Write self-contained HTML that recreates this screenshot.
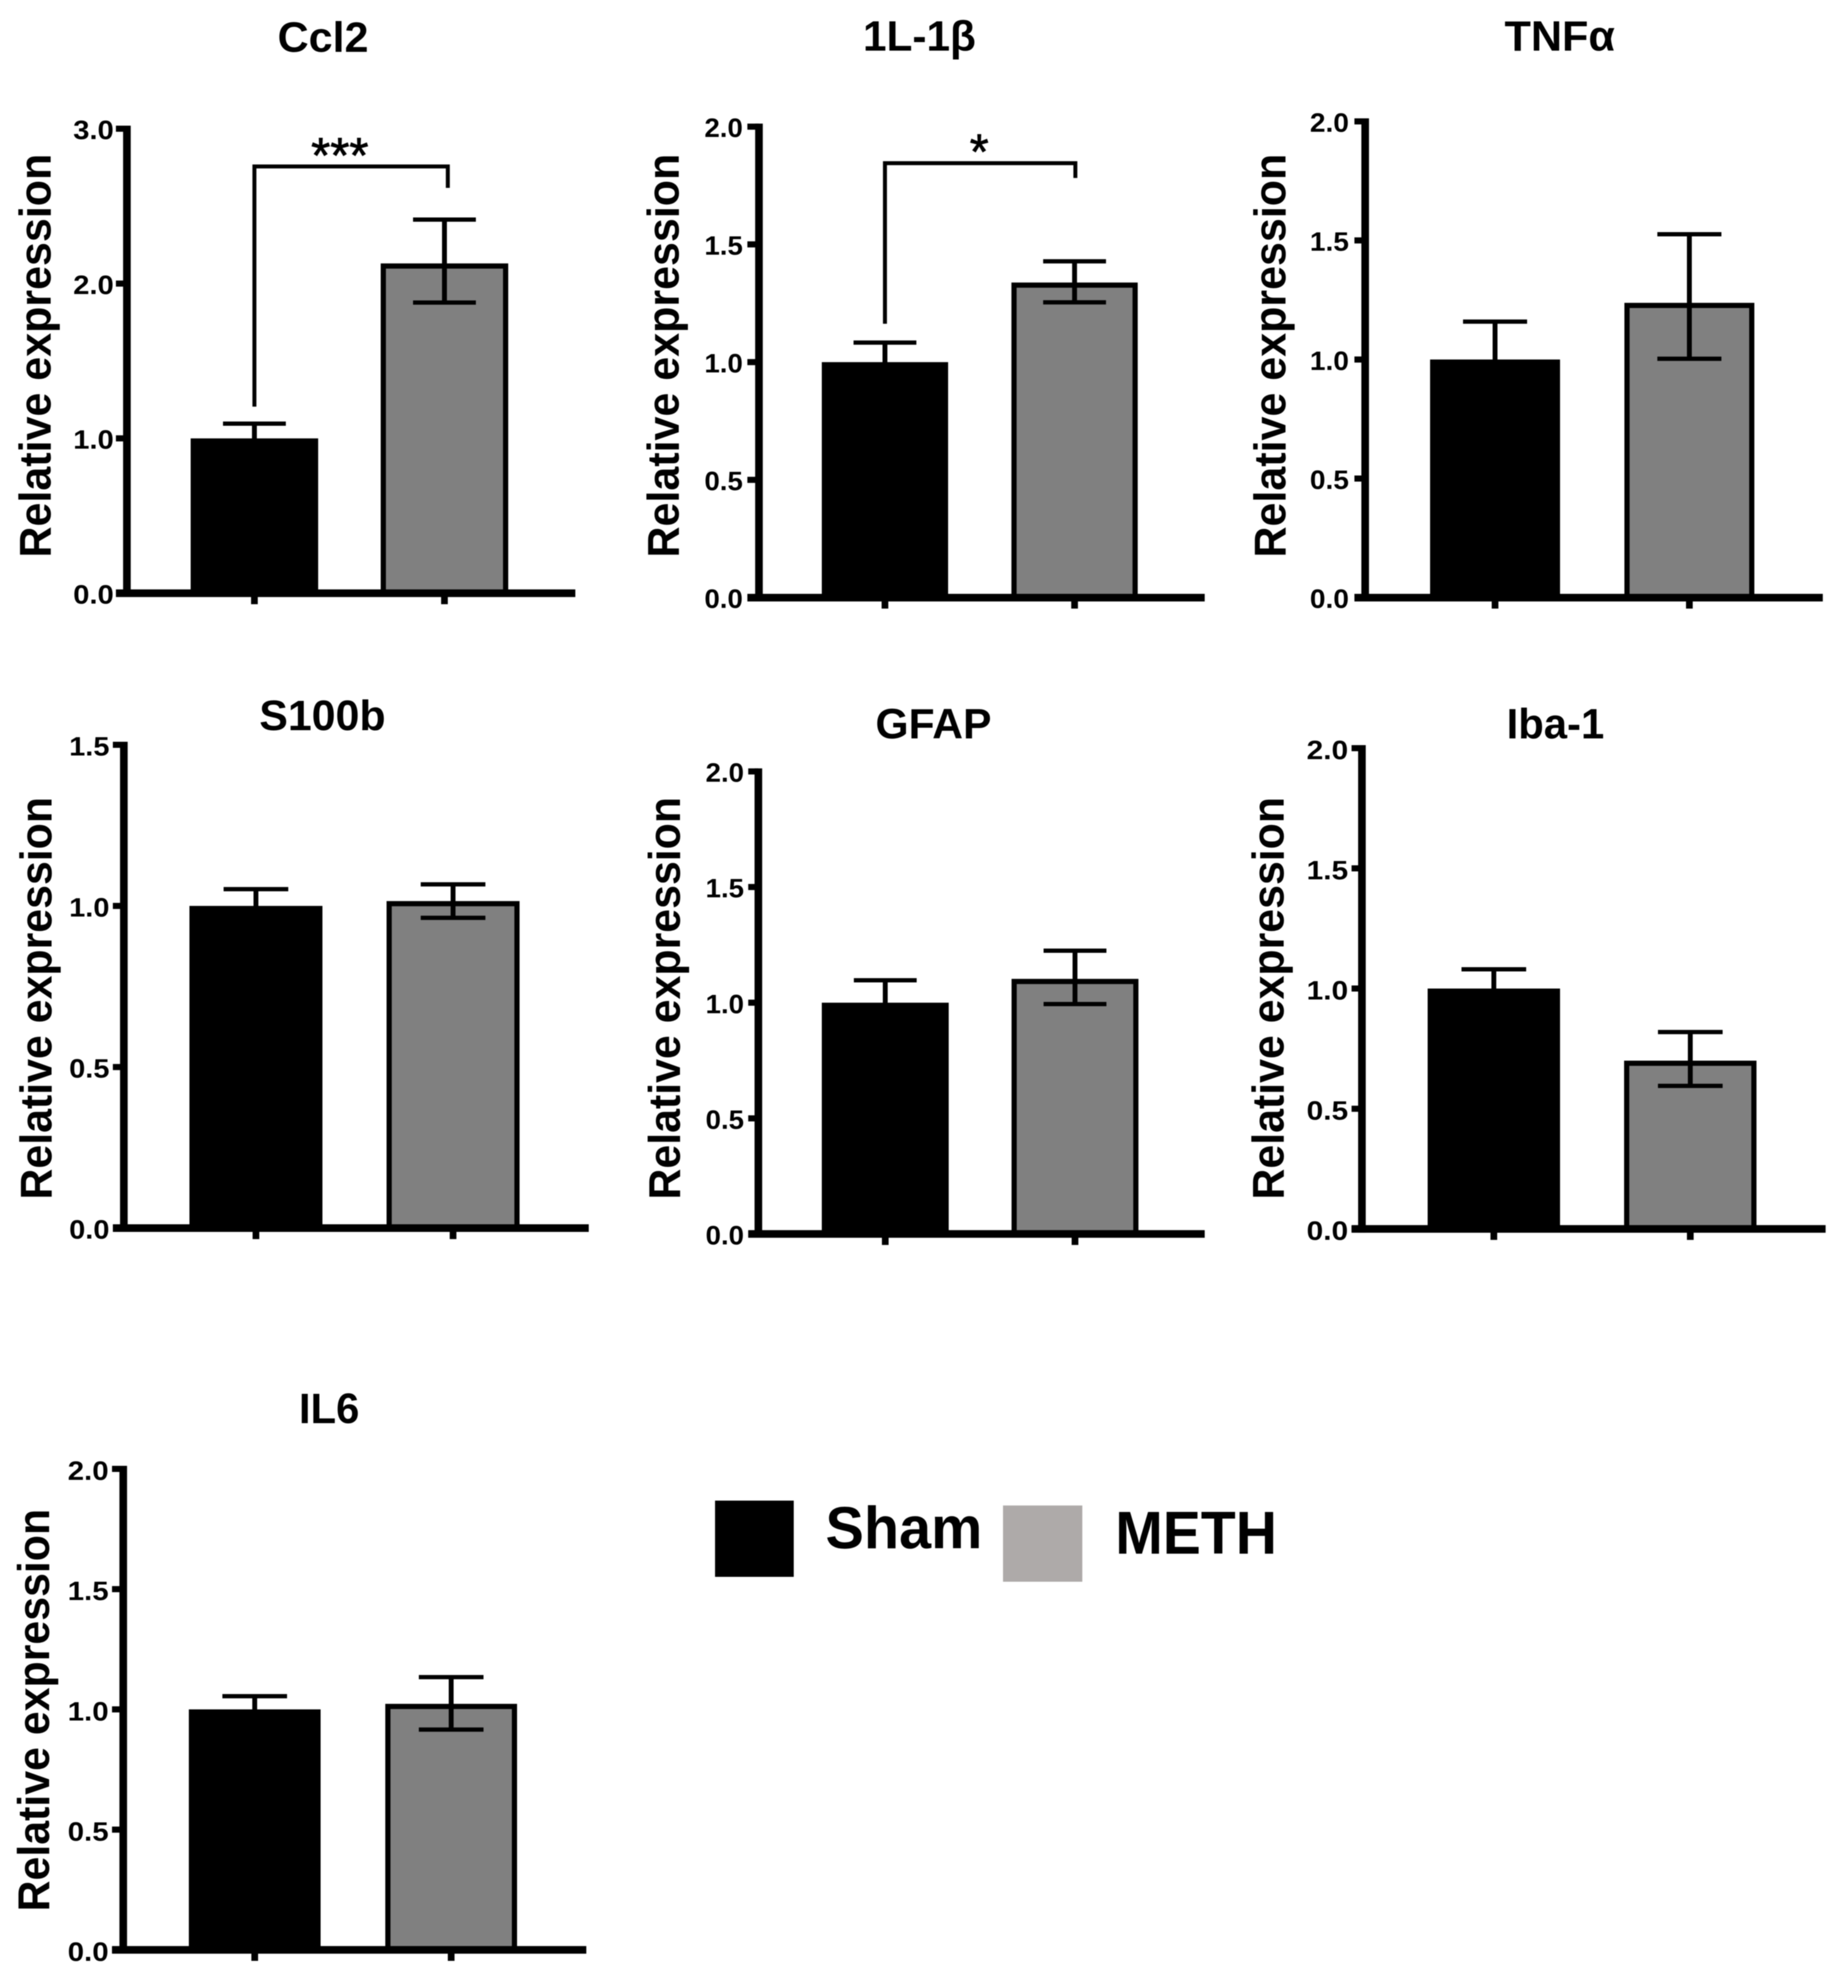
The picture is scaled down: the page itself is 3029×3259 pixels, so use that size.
<!DOCTYPE html>
<html>
<head>
<meta charset="utf-8">
<title>Relative expression bar charts</title>
<style>
html,body{margin:0;padding:0;background:#fff;}
#figure{display:block;width:3029px;height:3259px;background:#fff;filter:blur(0.7px);}
text{font-family:"Liberation Sans",sans-serif;font-weight:bold;fill:#000;}
</style>
</head>
<body>
<svg id="figure" xmlns="http://www.w3.org/2000/svg" width="3029" height="3259" viewBox="0 0 3029 3259">
  <g id="panels"></g>
  <g>
    <rect x="1172" y="2460" width="129" height="125" fill="#000"/>
    <text x="1353" y="2538" font-size="97" textLength="257" lengthAdjust="spacingAndGlyphs">Sham</text>
    <rect x="1644" y="2468" width="130" height="125" fill="#aeaaa9"/>
    <text x="1828" y="2547" font-size="99" textLength="265" lengthAdjust="spacingAndGlyphs">METH</text>
  </g>
</svg>
<script>
// ---- chart data ----
const categories = ['Sham', 'METH'];

const ccl2Ticks = ['0.0', '1.0', '2.0', '3.0'];
const ccl2Means = [1.0, 2.13];
const ccl2Upper = [1.095, 2.413];
const ccl2Lower = [0.905, 1.877];
const ccl2Bracket = [2.756, 1.205, 2.618];

const il1bTicks = ['0.0', '0.5', '1.0', '1.5', '2.0'];
const il1bMeans = [1.0, 1.338];
const il1bUpper = [1.083, 1.428];
const il1bLower = [0.917, 1.254];
const il1bBracket = [1.845, 1.163, 1.782];

const tnfaTicks = ['0.0', '0.5', '1.0', '1.5', '2.0'];
const tnfaMeans = [1.0, 1.238];
const tnfaUpper = [1.159, 1.526];
const tnfaLower = [0.841, 1.003];

const s100bTicks = ['0.0', '0.5', '1.0', '1.5'];
const s100bMeans = [1.0, 1.015];
const s100bUpper = [1.052, 1.067];
const s100bLower = [0.948, 0.963];

const gfapTicks = ['0.0', '0.5', '1.0', '1.5', '2.0'];
const gfapMeans = [1.0, 1.103];
const gfapUpper = [1.097, 1.225];
const gfapLower = [0.903, 0.994];

const iba1Ticks = ['0.0', '0.5', '1.0', '1.5', '2.0'];
const iba1Means = [1.0, 0.70];
const iba1Upper = [1.08, 0.819];
const iba1Lower = [0.92, 0.595];

const il6Ticks = ['0.0', '0.5', '1.0', '1.5', '2.0'];
const il6Means = [1.0, 1.023];
const il6Upper = [1.055, 1.134];
const il6Lower = [0.945, 0.916];

// ---- panel frames (layout only) ----
const panels = [
  {key:'ccl2', title:'Ccl2', titleX:529.5, titleY:85, titleW:149, ticks:ccl2Ticks, means:ccl2Means, upper:ccl2Upper, lower:ccl2Lower,
   bracket:ccl2Bracket, stars:'***', starX:557, starY:283, bracketDx:5.5, starW:94,
   axisX:208, leftX:190, rightX:943, baseY:972.5, topY:211, c0:417, c1:728.5, barW:209, capW:103, labelRight:186.5, labelW:66.5, labelDy:17, yTitleX:83, yTitleMid:583, yTitleLen:662},
  {key:'il1b', title:'1L-1β', titleX:1507, titleY:83, titleW:185, ticks:il1bTicks, means:il1bMeans, upper:il1bUpper, lower:il1bLower,
   bracket:il1bBracket, stars:'*', starX:1605, starY:277, bracketDx:1.3, starW:31,
   axisX:1244, leftX:1225, rightX:1974.6, baseY:979.7, topY:207.6, c0:1450.5, c1:1761.3, barW:207, capW:103, labelRight:1217.6, labelW:63, labelDy:17, yTitleX:1112.5, yTitleMid:583, yTitleLen:662},
  {key:'tnfa', title:'TNFα', titleX:2556.5, titleY:83, titleW:181, ticks:tnfaTicks, means:tnfaMeans, upper:tnfaUpper, lower:tnfaLower,
   axisX:2237.6, leftX:2220, rightX:2987.7, baseY:979.7, topY:199, c0:2450.5, c1:2769, barW:213, capW:105, labelRight:2211, labelW:64, labelDy:17, yTitleX:2107, yTitleMid:583, yTitleLen:662},
  {key:'s100b', title:'S100b', titleX:528.5, titleY:1197, titleW:207, ticks:s100bTicks, means:s100bMeans, upper:s100bUpper, lower:s100bLower,
   axisX:203, leftX:185, rightX:965, baseY:2013.3, topY:1221, c0:419.5, c1:742.6, barW:218, capW:106, labelRight:179.4, labelW:66, labelDy:17.4, yTitleX:84.5, yTitleMid:1636.5, yTitleLen:660},
  {key:'gfap', title:'GFAP', titleX:1530, titleY:1210.5, titleW:190, ticks:gfapTicks, means:gfapMeans, upper:gfapUpper, lower:gfapLower,
   axisX:1243, leftX:1226.4, rightX:1974.6, baseY:2022.9, topY:1264.6, c0:1451, c1:1762, barW:208, capW:103, labelRight:1219.5, labelW:63, labelDy:17, yTitleX:1114.5, yTitleMid:1636.5, yTitleLen:660},
  {key:'iba1', title:'Iba-1', titleX:2549.5, titleY:1210.5, titleW:160, ticks:iba1Ticks, means:iba1Means, upper:iba1Upper, lower:iba1Lower,
   axisX:2232.3, leftX:2215.3, rightX:2992.3, baseY:2014.6, topY:1226.5, c0:2448.5, c1:2770.5, barW:217, capW:106, labelRight:2209.7, labelW:68, labelDy:17.8, yTitleX:2104, yTitleMid:1636.5, yTitleLen:660},
  {key:'il6', title:'IL6', titleX:539.5, titleY:2333, titleW:99, ticks:il6Ticks, means:il6Means, upper:il6Upper, lower:il6Lower,
   axisX:202, leftX:183.6, rightX:961, baseY:3196.5, topY:2408, c0:417.5, c1:739.5, barW:216, capW:106, labelRight:178, labelW:67, labelDy:18, yTitleX:80.5, yTitleMid:2803.5, yTitleLen:660}
];

const barFills = ['#000000', '#808080'];
const NS = 'http://www.w3.org/2000/svg';
const root = document.getElementById('panels');

function mk(parent, tag, attrs, name) {
  const el = document.createElementNS(NS, tag);
  for (const k in attrs) el.setAttribute(k, attrs[k]);
  
  
  parent.appendChild(el);
  return el;
}

function drawPanel(p) {
  const g = mk(root, 'g', {}, p.key + '-panel');
  const yMax = Number(p.ticks[p.ticks.length - 1]);
  const yScale = v => p.baseY - (v / yMax) * (p.baseY - p.topY);
  const xScale = i => p.c0 + i * (p.c1 - p.c0);

  // title
  mk(g, 'text', {x:p.titleX, y:p.titleY, 'text-anchor':'middle', 'font-size':70, textLength:p.titleW, lengthAdjust:'spacingAndGlyphs'}, p.key + '-title').textContent = p.title;

  // y-axis title
  mk(g, 'text', {x:p.yTitleX, y:p.yTitleMid, transform:'rotate(-90 ' + p.yTitleX + ' ' + p.yTitleMid + ')', 'text-anchor':'middle', 'font-size':73, textLength:p.yTitleLen, lengthAdjust:'spacingAndGlyphs'}, 'y-axis-title').textContent = 'Relative expression';

  // bars
  const sw = 8.5;
  categories.forEach((cat, i) => {
    const cx = xScale(i);
    const top = yScale(p.means[i]);
    mk(g, 'rect', {x:cx - p.barW / 2 + sw / 2, y:top + sw / 2, width:p.barW - sw, height:p.baseY - top - sw / 2, fill:barFills[i], stroke:'#000', 'stroke-width':sw}, 'bar-' + cat.toLowerCase());
    // error bar
    const yHi = yScale(p.upper[i]);
    const yLo = yScale(p.lower[i]);
    mk(g, 'line', {x1:cx, x2:cx, y1:yHi, y2:yLo, stroke:'#000', 'stroke-width':8}, 'error-stem-' + cat.toLowerCase());
    mk(g, 'line', {x1:cx - p.capW / 2, x2:cx + p.capW / 2, y1:yHi, y2:yHi, stroke:'#000', 'stroke-width':7}, 'error-cap-upper-' + cat.toLowerCase());
    mk(g, 'line', {x1:cx - p.capW / 2, x2:cx + p.capW / 2, y1:yLo, y2:yLo, stroke:'#000', 'stroke-width':7}, 'error-cap-lower-' + cat.toLowerCase());
    // x tick
    mk(g, 'line', {x1:cx, x2:cx, y1:p.baseY, y2:p.baseY + 18, stroke:'#000', 'stroke-width':11}, 'x-tick-' + cat.toLowerCase());
  });

  // axes
  mk(g, 'line', {x1:p.axisX, x2:p.axisX, y1:p.topY - 5, y2:p.baseY + 6, stroke:'#000', 'stroke-width':12.5}, 'y-axis');
  mk(g, 'line', {x1:p.leftX, x2:p.rightX, y1:p.baseY, y2:p.baseY, stroke:'#000', 'stroke-width':12.5}, 'x-axis');

  // y ticks
  p.ticks.forEach(label => {
    const y = yScale(Number(label));
    mk(g, 'line', {x1:p.leftX, x2:p.axisX, y1:y, y2:y, stroke:'#000', 'stroke-width':10}, 'y-tick');
    mk(g, 'text', {x:p.labelRight, y:y + p.labelDy, 'text-anchor':'end', 'font-size':44, textLength:p.labelW, lengthAdjust:'spacingAndGlyphs', fill:'#111'}, 'y-tick-label').textContent = label;
  });

  // significance bracket
  if (p.bracket) {
    const xL = xScale(0);
    const xR = xScale(1) + p.bracketDx;
    const d = 'M' + xL + ' ' + yScale(p.bracket[1]) + 'V' + yScale(p.bracket[0]) + 'H' + xR + 'V' + yScale(p.bracket[2]);
    mk(g, 'path', {d:d, fill:'none', stroke:'#000', 'stroke-width':6.5}, 'significance-bracket');
    const star = mk(g, 'text', {x:p.starX, y:p.starY, 'text-anchor':'middle', 'font-size':82, textLength:p.starW, lengthAdjust:'spacingAndGlyphs', stroke:'#000', 'stroke-width':1.2}, 'significance-stars');
    star.style.fontWeight = 'normal';
    star.textContent = p.stars;
  }
}

panels.forEach(drawPanel);
</script>
</body>
</html>
